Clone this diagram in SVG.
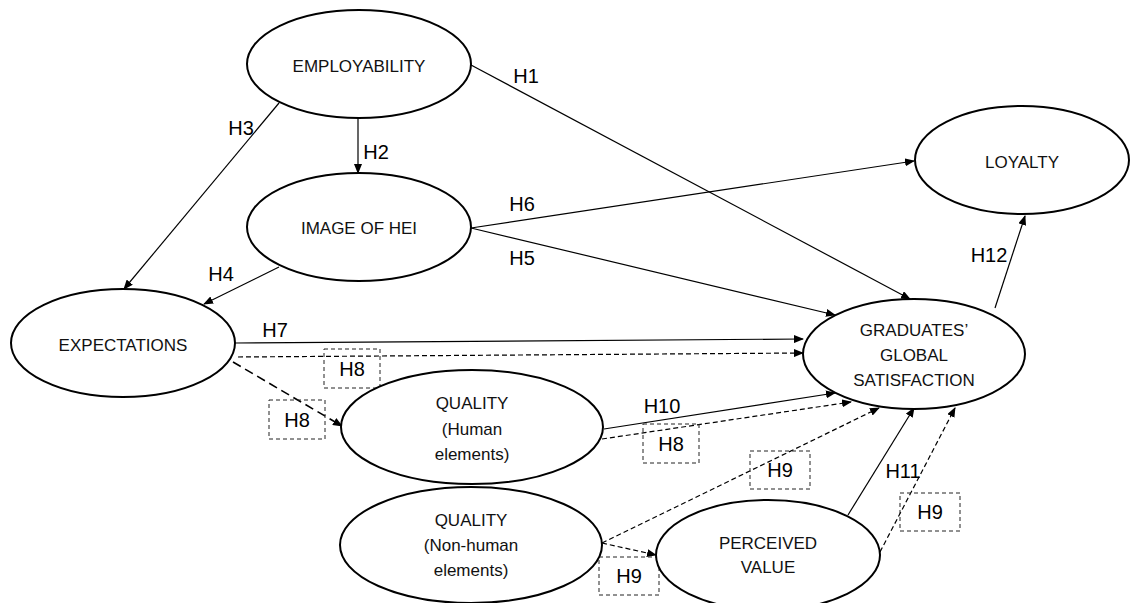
<svg xmlns="http://www.w3.org/2000/svg" width="1132" height="603" viewBox="0 0 1132 603">
<defs>
<marker id="ah" markerUnits="userSpaceOnUse" markerWidth="10" markerHeight="8" refX="9" refY="4" orient="auto">
<path d="M0,0 L10,4 L0,8 Z" fill="#000"/>
</marker>
<style>
.node ellipse{fill:#fff;stroke:#000;stroke-width:2}
.node text{font-family:"Liberation Sans",Arial,sans-serif;font-size:17px;fill:#111;text-anchor:middle;dominant-baseline:central}
.c{stroke:#000;stroke-width:1.2;fill:none;marker-end:url(#ah)}
.d{stroke-dasharray:5 3}
.dd{stroke-dasharray:9 5;stroke-width:1.6}
.lbl{font-family:"Liberation Sans",Arial,sans-serif;font-size:20px;fill:#000;text-anchor:middle;dominant-baseline:central}
.box{fill:none;stroke:#222;stroke-width:1;stroke-dasharray:4 3}
</style>
</defs>
<rect width="1132" height="603" fill="#fff"/>
<g id="connectors">
<line class="c" x1="471" y1="65" x2="910" y2="299"/>
<line class="c" x1="358" y1="117" x2="358" y2="173"/>
<line class="c" x1="279" y1="103" x2="124" y2="289"/>
<line class="c" x1="279" y1="267" x2="204" y2="304"/>
<line class="c" x1="471" y1="228" x2="835" y2="315"/>
<line class="c" x1="471" y1="228" x2="914" y2="161"/>
<line class="c" x1="235" y1="343" x2="803" y2="339"/>
<line class="c d" x1="238" y1="357" x2="803" y2="353"/>
<line class="c dd" x1="233" y1="362" x2="342" y2="426"/>
<line class="c" x1="604" y1="429" x2="835" y2="393"/>
<line class="c d" x1="602" y1="439" x2="851" y2="402"/>
<line class="c d" x1="602" y1="543" x2="879" y2="408"/>
<line class="c d" x1="602" y1="543" x2="656" y2="555"/>
<line class="c" x1="848" y1="515" x2="914" y2="408"/>
<line class="c d" x1="880" y1="552" x2="955" y2="408"/>
<line class="c" x1="995" y1="308" x2="1025" y2="216"/>
</g>
<g id="labels">
<text class="lbl" x="526" y="76">H1</text>
<text class="lbl" x="376" y="152">H2</text>
<text class="lbl" x="241" y="128">H3</text>
<text class="lbl" x="221" y="274">H4</text>
<text class="lbl" x="522" y="258">H5</text>
<text class="lbl" x="522" y="204">H6</text>
<text class="lbl" x="275" y="330">H7</text>
<text class="lbl" x="662" y="406">H10</text>
<text class="lbl" x="903" y="471">H11</text>
<text class="lbl" x="989" y="255">H12</text>
<rect class="box" x="324" y="349" width="56" height="39"/>
<text class="lbl" x="352" y="369">H8</text>
<rect class="box" x="269" y="400" width="56" height="39"/>
<text class="lbl" x="297" y="420">H8</text>
<rect class="box" x="643" y="424" width="56" height="39"/>
<text class="lbl" x="671" y="444">H8</text>
<rect class="box" x="750" y="451" width="60" height="38"/>
<text class="lbl" x="780" y="470">H9</text>
<rect class="box" x="599" y="557" width="60" height="38"/>
<text class="lbl" x="629" y="576">H9</text>
<rect class="box" x="900" y="493" width="60" height="38"/>
<text class="lbl" x="930" y="512">H9</text>
</g>
<g id="employability" class="node">
<ellipse cx="359" cy="64" rx="112" ry="54"/>
<text x="359" y="66">EMPLOYABILITY</text>
</g>
<g id="image" class="node">
<ellipse cx="359" cy="227" rx="112" ry="54"/>
<text x="359" y="228">IMAGE OF HEI</text>
</g>
<g id="expectations" class="node">
<ellipse cx="123" cy="343" rx="112" ry="54"/>
<text x="123" y="345">EXPECTATIONS</text>
</g>
<g id="quality-human" class="node">
<ellipse cx="472" cy="427" rx="131" ry="57"/>
<text x="472" y="403">QUALITY</text>
<text x="472" y="429">(Human</text>
<text x="472" y="454">elements)</text>
</g>
<g id="quality-nonhuman" class="node">
<ellipse cx="471" cy="545" rx="131" ry="58"/>
<text x="471" y="520">QUALITY</text>
<text x="471" y="545">(Non-human</text>
<text x="471" y="570">elements)</text>
</g>
<g id="perceived" class="node">
<ellipse cx="768" cy="555" rx="112" ry="55"/>
<text x="768" y="543">PERCEIVED</text>
<text x="768" y="567">VALUE</text>
</g>
<g id="satisfaction" class="node">
<ellipse cx="914" cy="354" rx="111" ry="55"/>
<text x="914" y="330">GRADUATES’</text>
<text x="914" y="355">GLOBAL</text>
<text x="914" y="380">SATISFACTION</text>
</g>
<g id="loyalty" class="node">
<ellipse cx="1022" cy="160" rx="107" ry="54"/>
<text x="1022" y="162">LOYALTY</text>
</g>
</svg>
